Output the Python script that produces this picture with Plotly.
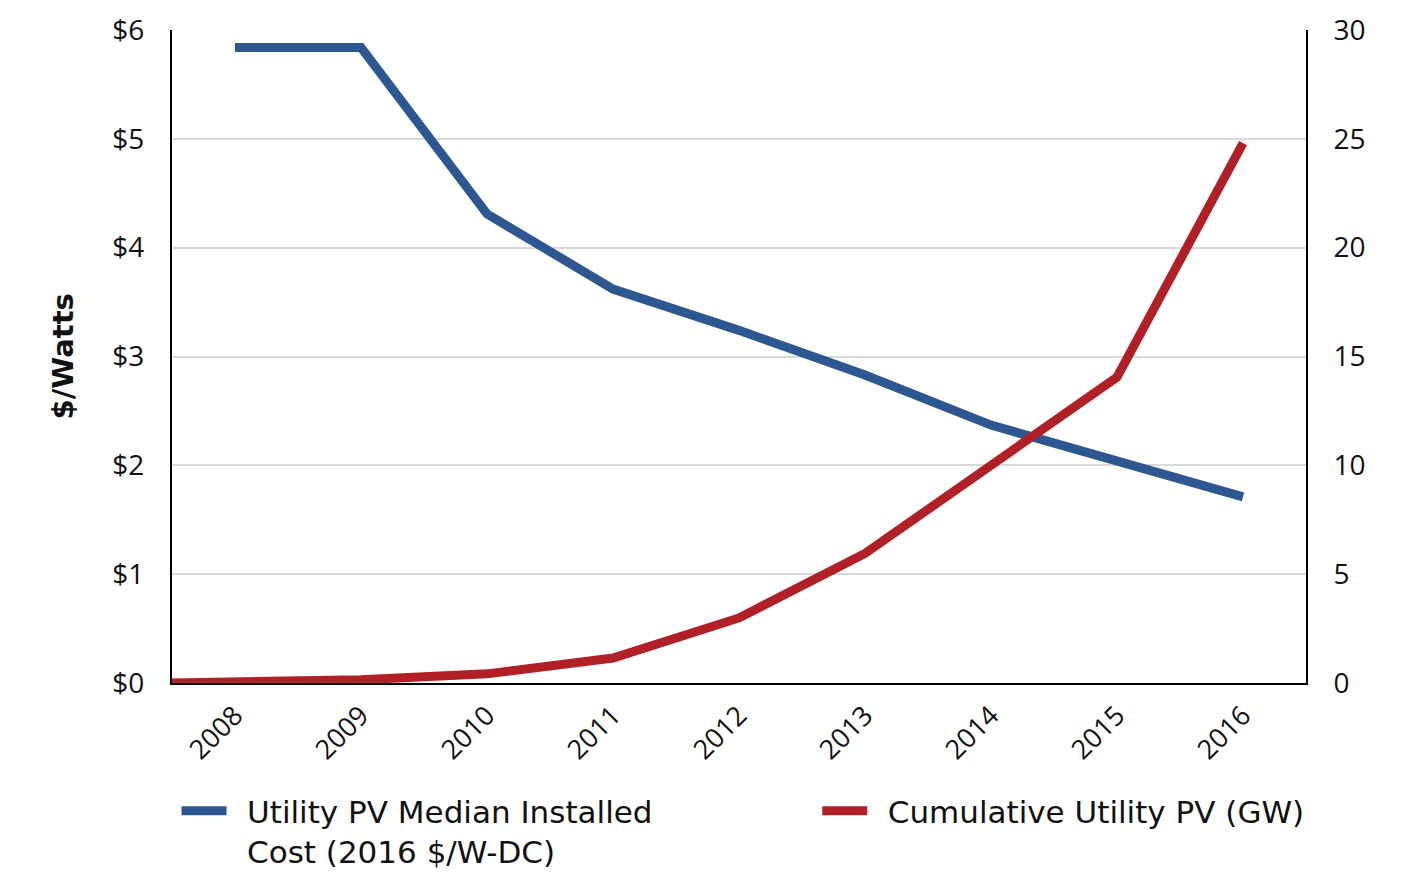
import plotly.graph_objects as go

# Utility-scale PV: median installed cost and cumulative capacity
years = [2008, 2009, 2010, 2011, 2012, 2013, 2014, 2015, 2016]
cost_per_watt = [5.84, 5.84, 4.31, 3.62, 3.24, 2.83, 2.37, 2.05, 1.71]

# cumulative capacity series starts at the left edge of the axis
capacity_years = [2007.5, 2008, 2009, 2010, 2011, 2012, 2013, 2014, 2015, 2016]
capacity_gw = [0.0, 0.03, 0.15, 0.42, 1.15, 2.99, 5.95, 10.0, 14.05, 24.8]

cost_ticks = [0, 1, 2, 3, 4, 5, 6]
capacity_ticks = [0, 5, 10, 15, 20, 25, 30]

BLUE = "#2d5791"
RED = "#b22027"
FONT = "DejaVu Sans"
TICK_FONT = "Open Sans"
PAD = "\u2002"

fig = go.Figure()
fig.add_trace(go.Scatter(
    x=years, y=cost_per_watt, mode="lines",
    name=f"{PAD}Utility PV Median Installed<br>{PAD}Cost (2016 $/W-DC)",
    line=dict(color=BLUE, width=9),
    yaxis="y", legend="legend",
))
fig.add_trace(go.Scatter(
    x=capacity_years, y=capacity_gw, mode="lines",
    name=f"{PAD}Cumulative Utility PV (GW)",
    line=dict(color=RED, width=9),
    yaxis="y2", legend="legend2",
))

legend_style = dict(
    orientation="h", xanchor="left", y=-0.155, yanchor="top",
    valign="top", itemwidth=45, bgcolor="rgba(0,0,0,0)",
    font=dict(family=FONT, size=31, color="#111111"),
)

fig.update_layout(
    width=1404, height=872,
    margin=dict(l=172, r=98, t=30, b=189, autoexpand=False),
    paper_bgcolor="white", plot_bgcolor="white",
    font=dict(family=TICK_FONT, size=28, color="#111111"),
    showlegend=True,
    legend=dict(x=0.004, **legend_style),
    legend2=dict(x=0.569, **legend_style),
    xaxis=dict(
        range=[2007.5, 2016.5], tickmode="array", tickvals=years,
        ticktext=[str(y) for y in years], tickangle=-45,
        showgrid=False, zeroline=False,
        showline=True, linecolor="black", linewidth=2,
        ticks="", ticklabelstandoff=4,
        tickfont=dict(family=TICK_FONT, size=27),
    ),
    yaxis=dict(
        range=[0, 6], tickmode="array", tickvals=cost_ticks,
        ticktext=[f"${v}" for v in cost_ticks],
        showgrid=True, gridcolor="#d9d9d9", gridwidth=1.5,
        zeroline=False, showline=True, linecolor="black", linewidth=2,
        ticks="", ticklabelstandoff=20,
        tickfont=dict(family=TICK_FONT, size=28),
    ),
    yaxis2=dict(
        range=[0, 30], overlaying="y", side="right",
        tickmode="array", tickvals=capacity_ticks,
        ticktext=[str(v) for v in capacity_ticks],
        showgrid=False, zeroline=False,
        showline=True, linecolor="black", linewidth=2,
        ticks="", ticklabelstandoff=20,
        tickfont=dict(family=TICK_FONT, size=28),
    ),
    annotations=[dict(
        text="<b>$/Watts</b>", textangle=-90,
        xref="paper", yref="paper", x=-0.097, y=0.5,
        xanchor="center", yanchor="middle", showarrow=False,
        font=dict(family=FONT, size=29, color="#111111"),
    )],
)

fig.write_html("out.html")
